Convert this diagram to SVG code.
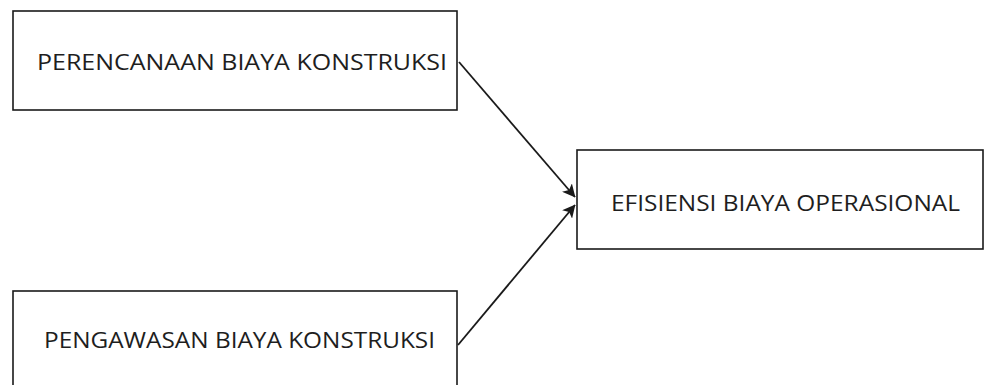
<svg xmlns="http://www.w3.org/2000/svg" width="986" height="385" viewBox="0 0 986 385">
<defs>
<style>
.box{fill:#fff;stroke:#1a1a1a;stroke-width:1.6}
.lbl{font-family:"Open Sans","Liberation Sans",sans-serif;font-size:21.5px;fill:#1e1e1e}
.edge{stroke:#1a1a1a;stroke-width:1.8;fill:none}
</style>
<marker id="ah" viewBox="0 0 10 10" refX="9.5" refY="5" markerWidth="13" markerHeight="13" markerUnits="userSpaceOnUse" orient="auto">
<path d="M0,0 L10,5 L0,10 L2.5,5 Z" fill="#1a1a1a"/>
</marker>
</defs>
<rect width="986" height="385" fill="#fff"/>
<g id="node-perencanaan">
<rect class="box" x="13" y="11" width="444" height="99"/>
<text class="lbl" x="37" y="70" textLength="410" lengthAdjust="spacingAndGlyphs">PERENCANAAN BIAYA KONSTRUKSI</text>
</g>
<g id="node-pengawasan">
<rect class="box" x="13" y="291" width="444" height="110"/>
<text class="lbl" x="44" y="348" textLength="391" lengthAdjust="spacingAndGlyphs">PENGAWASAN BIAYA KONSTRUKSI</text>
</g>
<g id="node-efisiensi">
<rect class="box" x="577" y="150" width="406" height="99"/>
<text class="lbl" x="611" y="211" textLength="349" lengthAdjust="spacingAndGlyphs">EFISIENSI BIAYA OPERASIONAL</text>
</g>
<g id="connectors">
<line class="edge" x1="459" y1="62" x2="575" y2="197" marker-end="url(#ah)"/>
<line class="edge" x1="458" y1="345" x2="575" y2="205" marker-end="url(#ah)"/>
</g>
</svg>
